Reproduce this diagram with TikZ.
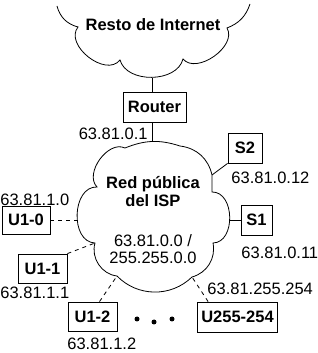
\documentclass[tikz,border=0pt]{standalone}
\usepackage{fontspec}
\setmainfont{Liberation Sans}
\usetikzlibrary{calc}
\tikzset{
  every path/.style={line width=0.8pt},
  boxnode/.style={draw, line width=0.8pt, inner sep=0pt, font=\fontsize{16.5}{19}\selectfont\bfseries},
  lbl/.style={inner sep=0pt, font=\fontsize{16.5}{19}\selectfont},
  blbl/.style={inner sep=0pt, font=\fontsize{16.5}{19}\selectfont\bfseries},
  dsh/.style={dash pattern=on 4pt off 4pt},
}
\begin{document}
\begin{tikzpicture}[x=1pt,y=1pt]
\useasboundingbox (0,0) rectangle (318,353);
% top cloud
\coordinate (p0) at (57,347);
\coordinate (p1) at (78,326);
\coordinate (p2) at (120,293);
\coordinate (p3) at (183,294);
\coordinate (p4) at (227,325);
\coordinate (p5) at (250,349);
\draw (p0) to[bend right=30] (p1) to[bend right=90,looseness=1.1] (p2)
  to[bend right=75] (p3) to[bend right=85] (p4) to[bend right=25] (p5);
\node[blbl, anchor=base] (internet) at (153,322) {Resto de Internet};
\coordinate (ibot) at (152,275);
% red cloud
\coordinate (ca) at (125,205);
\coordinate (cb) at (180,207);
\coordinate (cc) at (212,178);
\coordinate (cd) at (212,161);
\coordinate (ce) at (213,110);
\coordinate (cf) at (192,76);
\coordinate (cg) at (117,77);
\coordinate (ch) at (95,110);
\coordinate (ci) at (97,166);
\coordinate (ctop) at (152,211);
\coordinate (cright) at (230,133);
\coordinate (cleft) at (78,133);
\draw (ca) to[bend left=20] (cb) to[bend left=35] (cc) -- (cd)
  to[bend left=90,looseness=1.15] (ce) to[bend left=43] (cf)
  to[bend left=45] (cg) to[bend left=50] (ch)
  to[bend left=90,looseness=1.15] (ci) to[bend left=80] (ca);
\node[blbl, anchor=base] (red1) at (153,164) {Red pública};
\node[blbl, anchor=base] (red2) at (153,146) {del ISP};
\node[lbl, anchor=base] (net1) at (153,106) {63.81.0.0 /};
\node[lbl, anchor=base] (net2) at (153,89) {255.255.0.0};
% boxes
\node[boxnode, minimum width=63pt, minimum height=30pt] (router) at (154.5,246) {Router};
\node[boxnode, minimum width=34pt, minimum height=30pt] (s2) at (245,205) {S2};
\node[boxnode, minimum width=31pt, minimum height=30pt] (s1) at (256.5,133) {S1};
\node[boxnode, minimum width=48pt, minimum height=28pt] (u10) at (26,133) {U1-0};
\node[boxnode, minimum width=49pt, minimum height=29pt] (u11) at (42.5,84.5) {U1-1};
\node[boxnode, minimum width=49pt, minimum height=29pt] (u12) at (92.5,36.5) {U1-2};
\node[boxnode, minimum width=80pt, minimum height=30pt] (u255) at (237.5,36) {U255-254};
% labels
\node[lbl, anchor=base east] (l01) at (148,213) {63.81.0.1};
\node[lbl, anchor=base west] (l012) at (231,169) {63.81.0.12};
\node[lbl, anchor=base west] (l10) at (0,147) {63.81.1.0};
\node[lbl, anchor=base west] (l011) at (241,94) {63.81.0.11};
\node[lbl, anchor=base west] (l11) at (0,54) {63.81.1.1};
\node[lbl, anchor=base west] (l255) at (207,58) {63.81.255.254};
\node[lbl, anchor=base west] (l12) at (67,3) {63.81.1.2};
% dots
\fill (137,34) circle (2.5);
\fill (154,31) circle (2.5);
\fill (172,34) circle (2.5);
% connectors
\draw (ibot) -- (ibot |- router.north);
\draw (ctop |- router.south) -- (ctop);
\draw (s2.south west) -- (cc);
\draw (s1.west) -- (cright);
\draw[dsh] (u10.east) -- (cleft);
\draw[dsh] (u11.north east) -- (ch);
\draw[dsh] ($(u12.north)+(7,0)$) -- (cg);
\draw[dsh] ($(u255.north west)+(11,0)$) -- (cf);
\end{tikzpicture}
\end{document}
